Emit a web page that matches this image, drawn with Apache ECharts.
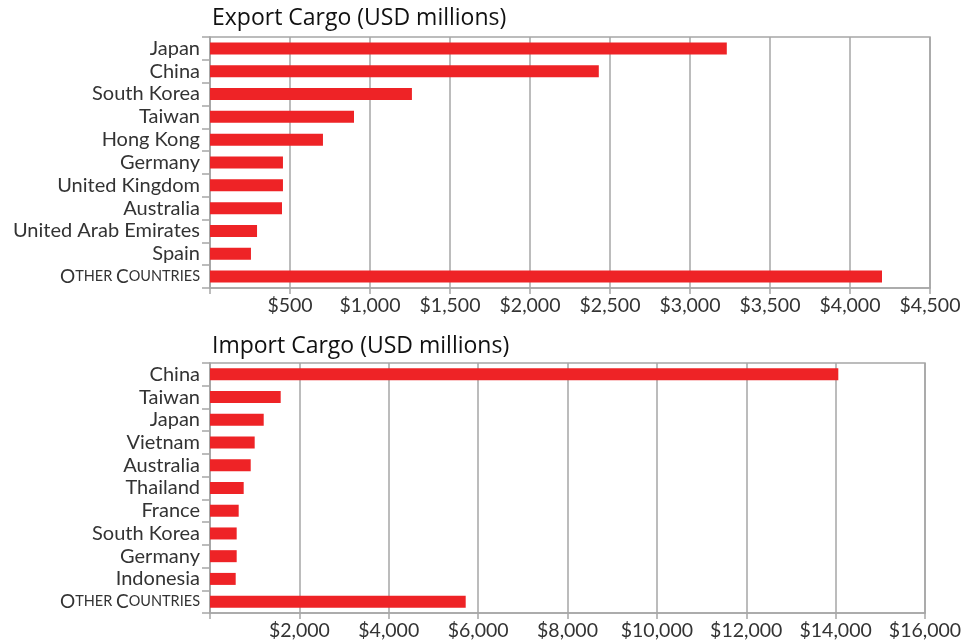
<!DOCTYPE html>
<html>
<head>
<meta charset="utf-8">
<script src="https://cdn.jsdelivr.net/npm/echarts@6/dist/echarts.min.js"></script>
<style>html,body{margin:0;padding:0;background:#fff;}#c{width:980px;height:642px;}</style>
</head>
<body>
<div id="c"></div>
<script>
var exportCategories = ['Japan','China','South Korea','Taiwan','Hong Kong','Germany','United Kingdom','Australia','United Arab Emirates','Spain','Other Countries'];
var exportValues = [3230, 2430, 1262, 900, 706, 456, 456, 450, 294, 256, 4200];
var importCategories = ['China','Taiwan','Japan','Vietnam','Australia','Thailand','France','South Korea','Germany','Indonesia','Other Countries'];
var importValues = [14060, 1582, 1202, 1000, 911, 754, 642, 597, 597, 575, 5722];
var exportTicks = {min: 0, max: 4500, interval: 500};
var importTicks = {min: 0, max: 16000, interval: 2000};

var FONT = 'Lato';
var TFONT = 'Open Sans';
var GRAY = '#a6a6a6';
var RED = '#ee2326';

function money(v){
  if (v === 0) return '';
  return '$' + String(v).replace(/\B(?=(\d{3})+(?!\d))/g, ',');
}
function catLabel(v){
  if (v === 'Other Countries') return '{c|O}{b|THER }{c|C}{b|OUNTRIES}';
  return '{a|' + v + '}';
}
var catRich = {
  a: {fontFamily: FONT, fontSize: 20, color: '#333'},
  c: {fontFamily: FONT, fontSize: 19, color: '#333'},
  b: {fontFamily: FONT, fontSize: 14.5, color: '#333'}
};
function xAxisCfg(idx, t){
  return {
    type: 'value', gridIndex: idx, min: t.min, max: t.max, interval: t.interval,
    axisLine: {show: true, lineStyle: {color: GRAY, width: 1.5}},
    axisTick: {show: true, length: 6, lineStyle: {color: GRAY, width: 1.5}},
    splitLine: {show: true, lineStyle: {color: GRAY, width: 1.5}},
    axisLabel: {formatter: money, fontFamily: FONT, fontSize: 19.5, color: '#333', margin: 8}
  };
}
function yAxisCfg(idx, cats){
  return {
    type: 'category', gridIndex: idx, data: cats, inverse: true,
    axisLine: {show: true, lineStyle: {color: GRAY, width: 1.5}},
    axisTick: {show: true, length: 8, lineStyle: {color: GRAY, width: 1.5}},
    splitLine: {show: false},
    axisLabel: {formatter: catLabel, rich: catRich, margin: 10}
  };
}

var chart = echarts.init(document.getElementById('c'));
chart.setOption({
  animation: false,
  backgroundColor: '#fff',
  title: [
    {text: 'Export Cargo (USD millions)', left: 207, top: 2, textStyle: {fontFamily: TFONT, fontSize: 23, fontWeight: 'normal', color: '#111'}},
    {text: 'Import Cargo (USD millions)', left: 207, top: 330, textStyle: {fontFamily: TFONT, fontSize: 23, fontWeight: 'normal', color: '#111'}}
  ],
  grid: [
    {left: 210, right: 50, top: 37, height: 251, show: true, borderColor: GRAY, borderWidth: 1.5},
    {left: 210, right: 55, top: 363, height: 250, show: true, borderColor: GRAY, borderWidth: 1.5}
  ],
  xAxis: [xAxisCfg(0, exportTicks), xAxisCfg(1, importTicks)],
  yAxis: [yAxisCfg(0, exportCategories), yAxisCfg(1, importCategories)],
  series: [
    {type: 'bar', xAxisIndex: 0, yAxisIndex: 0, data: exportValues, barWidth: 12, itemStyle: {color: RED}},
    {type: 'bar', xAxisIndex: 1, yAxisIndex: 1, data: importValues, barWidth: 12, itemStyle: {color: RED}}
  ]
});
</script>
</body>
</html>
